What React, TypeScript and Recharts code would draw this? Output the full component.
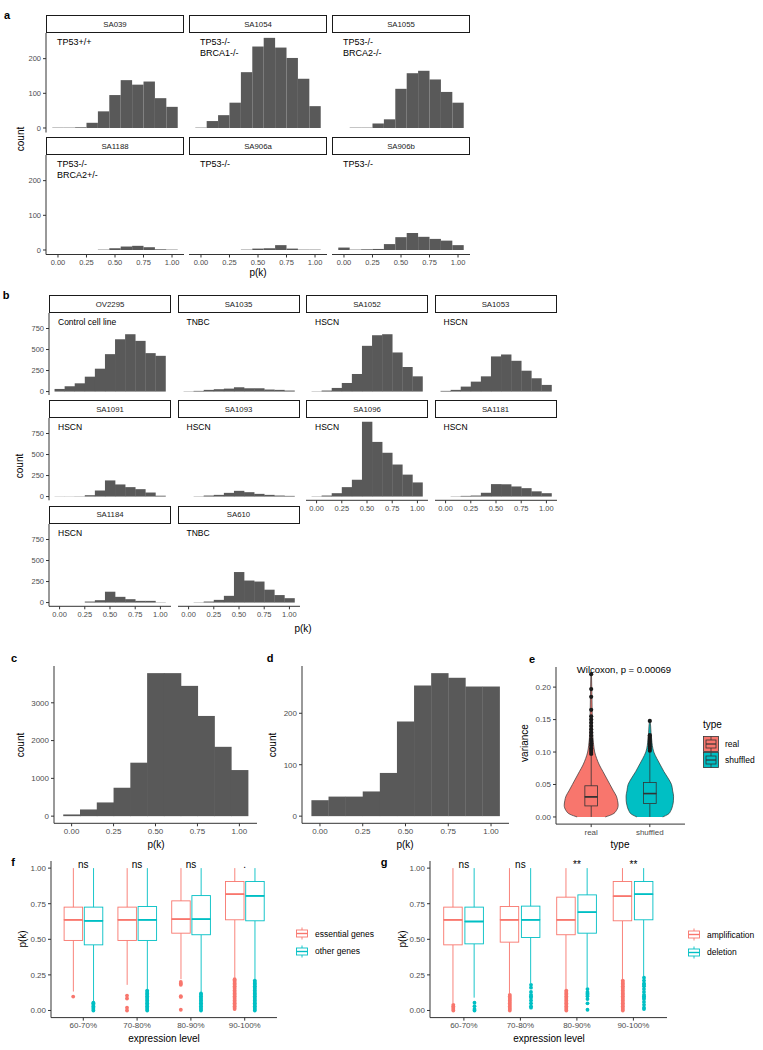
import React from "react";
import {
  BarChart,
  Bar,
  XAxis,
  YAxis,
  ComposedChart,
  Area,
  Scatter,
  ReferenceDot,
} from "recharts";

const FONT = "'Liberation Sans', Arial, Helvetica, sans-serif";
const TICK = "#4d4d4d";
const AXIS = "#333333";
const HIST = "#595959";
const RED = "#F8766D";
const CYAN = "#00BFC4";

// histogram bins (centres) and p(k) ticks
const binMids = [0, 0.1, 0.2, 0.3, 0.4, 0.5, 0.6, 0.7, 0.8, 0.9, 1.0];
const pkTicks = [0, 0.25, 0.5, 0.75, 1];

// panel a counts
const sa039 = [1, 1, 2, 15, 48, 95, 138, 125, 134, 86, 61];
const sa1054 = [1, 20, 37, 73, 161, 235, 260, 232, 202, 142, 63];
const sa1055 = [null, 1, 1, 13, 25, 113, 158, 165, 140, 104, 73];
const sa1188 = [null, null, null, null, 1, 5, 10, 12, 8, 2, 1];
const sa906a = [null, null, null, null, 1, 4, 5, 14, 4, 1, 1];
const sa906b = [7, 1, 2, 3, 17, 37, 49, 38, 32, 27, 14];

// panel b counts
const ov2295 = [31, 63, 98, 177, 272, 445, 622, 682, 603, 457, 425];
const sa1035 = [3, 8, 20, 28, 35, 51, 39, 39, 24, 20, 12];
const sa1052 = [3, 12, 43, 102, 209, 544, 670, 682, 465, 292, 181];
const sa1053 = [8, 20, 59, 118, 181, 418, 441, 366, 248, 158, 79];
const sa1091 = [2, 2, 3, 16, 72, 192, 144, 112, 88, 48, 10];
const sa1093 = [null, 3, 12, 20, 44, 68, 52, 32, 20, 12, 8];
const sa1096 = [3, 12, 40, 112, 200, 890, 650, 521, 381, 261, 168];
const sa1181 = [null, 3, 8, 12, 45, 148, 146, 120, 100, 62, 40];
const sa1184 = [null, null, null, 12, 28, 129, 68, 40, 20, 20, 3];
const sa610 = [null, 3, 12, 32, 80, 363, 262, 250, 153, 89, 52];

// panels c, d
const countsC = [45, 177, 363, 752, 1415, 3785, 3785, 3448, 2652, 1835, 1220];
const countsD = [31, 38, 38, 48, 84, 184, 254, 278, 269, 252, 252];

// panel e
const eTypes = ["real", "shuffled"];
const violinV = [0, 0.004, 0.01, 0.018, 0.025, 0.032, 0.04, 0.05, 0.06, 0.07, 0.08, 0.09, 0.1, 0.11, 0.12, 0.13, 0.14, 0.148, 0.16, 0.18, 0.2, 0.22];
const violinReal = [0.24, 0.36, 0.43, 0.46, 0.45, 0.43, 0.38, 0.32, 0.26, 0.2, 0.14, 0.094, 0.06, 0.043, 0.031, 0.025, 0.02, 0.019, 0.017, 0.014, 0.01, 0.005];
const violinShuf = [0.22, 0.31, 0.36, 0.39, 0.403, 0.405, 0.39, 0.37, 0.31, 0.24, 0.18, 0.12, 0.068, 0.043, 0.031, 0.02, 0.014, 0.005, null, null, null, null];
// [lower whisker, q1, median, q3, upper whisker]
const eBoxReal = [0.0, 0.017, 0.031, 0.048, 0.094];
const eBoxShuf = [0.0, 0.0206, 0.036, 0.053, 0.1];
const eOutReal = [0.097, 0.1, 0.103, 0.106, 0.11, 0.113, 0.117, 0.12, 0.125, 0.13, 0.135, 0.14, 0.145, 0.15, 0.155, 0.165, 0.185, 0.197, 0.22];
const eOutShuf = [0.102, 0.105, 0.108, 0.111, 0.114, 0.117, 0.12, 0.123, 0.126, 0.148];

// panels f, g
const exprLevels = ["60-70%", "70-80%", "80-90%", "90-100%"];
const fEssential = [
  [0.133, 0.492, 0.637, 0.726, 1.0],
  [0.18, 0.492, 0.637, 0.726, 1.0],
  [0.22, 0.543, 0.642, 0.77, 1.0],
  [0.23, 0.637, 0.817, 0.906, 1.0],
];
const fOther = [
  [0.06, 0.461, 0.63, 0.726, 1.0],
  [0.14, 0.492, 0.637, 0.73, 1.0],
  [0.13, 0.532, 0.642, 0.807, 1.0],
  [0.22, 0.63, 0.805, 0.906, 1.0],
];
const fEssentialOut = [
  [0.098],
  [0.105, 0.084, 0.02, 0.0],
  [0.2, 0.19, 0.18, 0.1, 0.095, 0.005],
  [0.22, 0.21, 0.2, 0.19, 0.18, 0.17, 0.16, 0.15, 0.14, 0.13, 0.12, 0.11, 0.1, 0.09, 0.08, 0.07, 0.06, 0.05, 0.04, 0.03, 0.02, 0.01],
];
const fOtherOut = [
  [0.055, 0.05, 0.04, 0.03, 0.02, 0.01, 0.0],
  [0.14, 0.13, 0.12, 0.11, 0.1, 0.09, 0.08, 0.07, 0.06, 0.05, 0.04, 0.03, 0.02, 0.01, 0.0],
  [0.12, 0.11, 0.1, 0.09, 0.08, 0.07, 0.06, 0.05, 0.04, 0.03, 0.02, 0.01, 0.0],
  [0.21, 0.2, 0.19, 0.18, 0.17, 0.16, 0.15, 0.14, 0.13, 0.12, 0.11, 0.1, 0.09, 0.08, 0.07, 0.06, 0.05, 0.04, 0.03, 0.02, 0.01, 0.0],
];
const fSig = ["ns", "ns", "ns", "."];

const gAmp = [
  [0.05, 0.461, 0.637, 0.726, 1.0],
  [0.12, 0.48, 0.637, 0.73, 1.0],
  [0.15, 0.532, 0.637, 0.796, 1.0],
  [0.22, 0.63, 0.803, 0.906, 1.0],
];
const gDel = [
  [0.09, 0.468, 0.625, 0.726, 1.0],
  [0.19, 0.513, 0.637, 0.733, 1.0],
  [0.16, 0.543, 0.691, 0.812, 1.0],
  [0.24, 0.637, 0.817, 0.906, 1.0],
];
const gAmpOut = [
  [0.04, 0.03, 0.02, 0.01, 0.0],
  [0.11, 0.1, 0.09, 0.08, 0.07, 0.06, 0.05, 0.04, 0.03, 0.02, 0.01, 0.0],
  [0.14, 0.13, 0.12, 0.11, 0.1, 0.09, 0.08, 0.07, 0.06, 0.05, 0.04, 0.03, 0.02, 0.01, 0.0],
  [0.21, 0.2, 0.19, 0.18, 0.17, 0.16, 0.15, 0.14, 0.13, 0.12, 0.11, 0.1, 0.09, 0.08, 0.07, 0.06, 0.05, 0.04, 0.03, 0.02, 0.01, 0.0],
];
const gDelOut = [
  [0.055, 0.03, 0.01, 0.0],
  [0.18, 0.16, 0.13, 0.11, 0.1, 0.09, 0.07, 0.05, 0.03, 0.02],
  [0.15, 0.13, 0.12, 0.11, 0.1, 0.08, 0.05, 0.005],
  [0.23, 0.21, 0.19, 0.18, 0.17, 0.15, 0.13, 0.11, 0.1, 0.09, 0.08, 0.06, 0.04, 0.02, 0.01],
];
const gSig = ["ns", "ns", "**", "**"];

const facetsA = [
  { name: "SA039", note: ["TP53+/+"], counts: sa039 },
  { name: "SA1054", note: ["TP53-/-", "BRCA1-/-"], counts: sa1054 },
  { name: "SA1055", note: ["TP53-/-", "BRCA2-/-"], counts: sa1055 },
  { name: "SA1188", note: ["TP53-/-", "BRCA2+/-"], counts: sa1188 },
  { name: "SA906a", note: ["TP53-/-"], counts: sa906a },
  { name: "SA906b", note: ["TP53-/-"], counts: sa906b },
];

const facetsB = [
  { name: "OV2295", note: ["Control cell line"], counts: ov2295 },
  { name: "SA1035", note: ["TNBC"], counts: sa1035 },
  { name: "SA1052", note: ["HSCN"], counts: sa1052 },
  { name: "SA1053", note: ["HSCN"], counts: sa1053 },
  { name: "SA1091", note: ["HSCN"], counts: sa1091 },
  { name: "SA1093", note: ["HSCN"], counts: sa1093 },
  { name: "SA1096", note: ["HSCN"], counts: sa1096 },
  { name: "SA1181", note: ["HSCN"], counts: sa1181 },
  { name: "SA1184", note: ["HSCN"], counts: sa1184 },
  { name: "SA610", note: ["TNBC"], counts: sa610 },
];

function Txt({ x, y, size = 10, rot = false, bold = false, color = "#000", children }: any) {
  return (
    <div
      style={{
        position: "absolute",
        left: x,
        top: y,
        transform: `translate(-50%, -50%)${rot ? " rotate(-90deg)" : ""}`,
        fontSize: size,
        fontWeight: bold ? 700 : 400,
        whiteSpace: "nowrap",
        lineHeight: 1,
        color,
      }}
    >
      {children}
    </div>
  );
}

// bars overlap by a hair so neighbouring bins show no seam
const histShape = (p: any) =>
  p.height == null || isNaN(p.y) ? <g /> : <rect x={p.x} y={p.y} width={p.width + 0.4} height={p.height} fill={HIST} />;

function Hist({ counts, x, top, w, h, yDomain, yTicks, showY, showX, fs, yW }: any) {
  const data = binMids.map((b, i) => ({ x: b, n: counts[i] }));
  const xH = fs + 9;
  const l = showY ? yW : 0;
  const bt = showX ? xH : 0;
  return (
    <div style={{ position: "absolute", left: x - l, top }}>
      <BarChart
        width={w + l}
        height={h + bt}
        data={data}
        margin={{ top: 0, right: 0, bottom: 0, left: 0 }}
        barCategoryGap={0}
        barGap={0}
        style={{ overflow: "visible" }}
      >
        <XAxis
          type="number"
          dataKey="x"
          domain={[-0.105, 1.105]}
          allowDataOverflow
          ticks={pkTicks}
          interval={0}
          tickFormatter={(v: number) => v.toFixed(2)}
          hide={!showX}
          height={xH}
          tickSize={3}
          stroke={AXIS}
          tick={{ fontSize: fs, fill: TICK }}
        />
        <YAxis
          type="number"
          domain={yDomain}
          allowDataOverflow
          ticks={yTicks}
          interval={0}
          hide={!showY}
          width={yW}
          tickSize={3}
          stroke={AXIS}
          tick={{ fontSize: fs, fill: TICK }}
        />
        <Bar dataKey="n" fill={HIST} isAnimationActive={false} shape={histShape} />
      </BarChart>
    </div>
  );
}

function Facet({ f, x, top, w, h, stripH, yDomain, yTicks, showY, showX, noteFs, noteDx }: any) {
  return (
    <>
      <div
        style={{
          position: "absolute",
          left: x,
          top,
          width: w,
          height: stripH,
          border: "1px solid #1a1a1a",
          boxSizing: "border-box",
          background: "#fff",
          fontSize: 7.8,
          color: "#1a1a1a",
          display: "flex",
          alignItems: "center",
          justifyContent: "center",
        }}
      >
        {f.name}
      </div>
      <Hist
        counts={f.counts}
        x={x}
        top={top + stripH}
        w={w}
        h={h}
        yDomain={yDomain}
        yTicks={yTicks}
        showY={showY}
        showX={showX}
        fs={7.5}
        yW={24}
      />
      <div
        style={{
          position: "absolute",
          left: x + noteDx,
          top: top + stripH + 4,
          fontSize: noteFs,
          lineHeight: "11px",
          color: "#000",
          whiteSpace: "nowrap",
        }}
      >
        {f.note.map((t: string) => (
          <div key={t}>{t}</div>
        ))}
      </div>
    </>
  );
}

const boxRow = (x: number, s: number[], line: string, fill: string) => ({
  x,
  base: s[0],
  lo: s[1] - s[0],
  mid: s[2] - s[1],
  hi: s[3] - s[2],
  up: s[4] - s[3],
  line,
  fill,
});

const segShape = (part: string, lw: number) => (props: any) => {
  const { x, y, width, height, payload } = props;
  if (part === "base" || y == null || isNaN(y)) return <g />;
  const cx = x + width / 2;
  if (part === "lo" || part === "up")
    return <line x1={cx} x2={cx} y1={y} y2={y + height} stroke={payload.line} strokeWidth={lw} />;
  if (part === "mid")
    return <rect x={x} y={y} width={width} height={height} fill={payload.fill} stroke={payload.line} strokeWidth={lw} />;
  return (
    <g>
      <rect x={x} y={y} width={width} height={height} fill={payload.fill} stroke={payload.line} strokeWidth={lw} />
      <line x1={x} x2={x + width} y1={y + height} y2={y + height} stroke={payload.line} strokeWidth={lw * 2} />
    </g>
  );
};

function BoxBars({ lw }: any) {
  return [
    <Bar key="base" dataKey="base" stackId="s" isAnimationActive={false} shape={segShape("base", lw)} />,
    <Bar key="lo" dataKey="lo" stackId="s" isAnimationActive={false} shape={segShape("lo", lw)} />,
    <Bar key="mid" dataKey="mid" stackId="s" isAnimationActive={false} shape={segShape("mid", lw)} />,
    <Bar key="hi" dataKey="hi" stackId="s" isAnimationActive={false} shape={segShape("hi", lw)} />,
    <Bar key="up" dataKey="up" stackId="s" isAnimationActive={false} shape={segShape("up", lw)} />,
  ];
}

const dot = (color: string, r: number) => (props: any) =>
  <circle cx={props.cx} cy={props.cy} r={r} fill={color} />;

function BoxPanel({ left, top, w, h, s1, s2, o1, o2, sig }: any) {
  const yW = 30;
  const xH = 17;
  const mt = 14;
  const d = 0.1875;
  const rows: any[] = [];
  s1.forEach((s: number[], i: number) => {
    rows.push(boxRow(i + 1 - d, s, RED, "#fff"));
    rows.push(boxRow(i + 1 + d, s2[i], CYAN, "#fff"));
  });
  const pts1 = o1.flatMap((vals: number[], i: number) => vals.map((v) => ({ x: i + 1 - d, y: v })));
  const pts2 = o2.flatMap((vals: number[], i: number) => vals.map((v) => ({ x: i + 1 + d, y: v })));
  return (
    <div style={{ position: "absolute", left: left - yW, top: top - mt }}>
      <ComposedChart
        width={w + yW}
        height={h + xH + mt}
        data={rows}
        margin={{ top: mt, right: 0, bottom: 0, left: 0 }}
        barSize={18.5}
        style={{ overflow: "visible" }}
      >
        <XAxis
          type="number"
          dataKey="x"
          domain={[0.4, 4.6]}
          allowDataOverflow
          ticks={[1, 2, 3, 4]}
          interval={0}
          tickFormatter={(v: number) => exprLevels[v - 1]}
          height={xH}
          tickSize={3}
          stroke={AXIS}
          tick={{ fontSize: 8, fill: TICK }}
        />
        <YAxis
          type="number"
          domain={[-0.05, 1.05]}
          allowDataOverflow
          ticks={[0, 0.25, 0.5, 0.75, 1]}
          interval={0}
          tickFormatter={(v: number) => v.toFixed(2)}
          width={yW}
          tickSize={3}
          stroke={AXIS}
          tick={{ fontSize: 8, fill: TICK }}
        />
        {BoxBars({ lw: 0.9 })}
        <Scatter data={pts1} dataKey="y" isAnimationActive={false} shape={dot(RED, 1.9)} />
        <Scatter data={pts2} dataKey="y" isAnimationActive={false} shape={dot(CYAN, 1.9)} />
        {sig.map((t: string, i: number) => (
          <ReferenceDot
            key={i}
            x={i + 1}
            y={1.025}
            r={0}
            fill="none"
            stroke="none"
            ifOverflow="visible"
            label={{ value: t, position: "center", fontSize: 10, fill: "#000" }}
          />
        ))}
      </ComposedChart>
    </div>
  );
}

function Violin({ rows, color, left, top, w, h, yW, xH }: any) {
  return (
    <div style={{ position: "absolute", left: left - yW, top }}>
      <ComposedChart
        layout="vertical"
        width={w + yW}
        height={h + xH}
        data={rows}
        margin={{ top: 0, right: 0, bottom: xH, left: yW }}
      >
        <XAxis type="number" domain={[0.4, 2.6]} allowDataOverflow hide />
        <YAxis type="number" dataKey="v" domain={[-0.011, 0.231]} allowDataOverflow reversed hide />
        <Area dataKey="span" type="monotoneY" fill={color} fillOpacity={1} stroke={AXIS} strokeWidth={0.7} isAnimationActive={false} />
      </ComposedChart>
    </div>
  );
}

function EPanel({ left, top, w, h }: any) {
  const yW = 30;
  const xH = 17;
  const realRows = violinV.map((v, i) => ({ v, span: [1 - violinReal[i], 1 + violinReal[i]] }));
  const shufRows = violinV
    .map((v, i) => ({ v, half: violinShuf[i] }))
    .filter((r) => r.half != null)
    .map((r) => ({ v: r.v, span: [2 - (r.half as number), 2 + (r.half as number)] }));
  const rows = [boxRow(1, eBoxReal, AXIS, RED), boxRow(2, eBoxShuf, AXIS, CYAN)];
  const pts = [
    ...eOutReal.map((v) => ({ x: 1, y: v })),
    ...eOutShuf.map((v) => ({ x: 2, y: v })),
  ];
  return (
    <>
      <Violin rows={realRows} color={RED} left={left} top={top} w={w} h={h} yW={yW} xH={xH} />
      <Violin rows={shufRows} color={CYAN} left={left} top={top} w={w} h={h} yW={yW} xH={xH} />
      <div style={{ position: "absolute", left: left - yW, top }}>
        <ComposedChart
          width={w + yW}
          height={h + xH}
          data={rows}
          margin={{ top: 0, right: 0, bottom: 0, left: 0 }}
          barSize={12.7}
          style={{ overflow: "visible" }}
        >
          <XAxis
            type="number"
            dataKey="x"
            domain={[0.4, 2.6]}
            allowDataOverflow
            ticks={[1, 2]}
            interval={0}
            tickFormatter={(v: number) => eTypes[v - 1]}
            height={xH}
            tickSize={3}
            stroke={AXIS}
            tick={{ fontSize: 8, fill: TICK }}
          />
          <YAxis
            type="number"
            domain={[-0.011, 0.231]}
            allowDataOverflow
            ticks={[0, 0.05, 0.1, 0.15, 0.2]}
            interval={0}
            tickFormatter={(v: number) => v.toFixed(2)}
            width={yW}
            tickSize={3}
            stroke={AXIS}
            tick={{ fontSize: 8, fill: TICK }}
          />
          {BoxBars({ lw: 0.8 })}
          <Scatter data={pts} dataKey="y" isAnimationActive={false} shape={dot("#1a1a1a", 2.1)} />
        </ComposedChart>
      </div>
    </>
  );
}

function BoxKey({ color }: any) {
  return (
    <svg width={14} height={13} style={{ display: "block" }}>
      <line x1={7} x2={7} y1={0.5} y2={3} stroke={color} strokeWidth={0.9} />
      <rect x={1.5} y={3} width={11} height={7} fill="#fff" stroke={color} strokeWidth={0.9} />
      <line x1={1.5} x2={12.5} y1={6.5} y2={6.5} stroke={color} strokeWidth={1.4} />
      <line x1={7} x2={7} y1={10} y2={12.5} stroke={color} strokeWidth={0.9} />
    </svg>
  );
}

function FillKey({ color }: any) {
  return (
    <svg width={16} height={16} style={{ display: "block" }}>
      <rect x={0.5} y={0.5} width={15} height={15} fill={color} stroke={AXIS} strokeWidth={0.8} />
      <line x1={8} x2={8} y1={0.5} y2={4} stroke={AXIS} strokeWidth={0.8} />
      <rect x={3} y={4} width={10} height={8} fill={color} stroke={AXIS} strokeWidth={0.8} />
      <line x1={3} x2={13} y1={8} y2={8} stroke={AXIS} strokeWidth={1.2} />
      <line x1={8} x2={8} y1={12} y2={15.5} stroke={AXIS} strokeWidth={0.8} />
    </svg>
  );
}

function Legend2({ x, y, items, gap }: any) {
  return (
    <div style={{ position: "absolute", left: x, top: y }}>
      {items.map((it: any) => (
        <div key={it.label} style={{ display: "flex", alignItems: "center", height: gap }}>
          <BoxKey color={it.color} />
          <span style={{ fontSize: 8.5, color: "#000", marginLeft: 6 }}>{it.label}</span>
        </div>
      ))}
    </div>
  );
}

export default function App() {
  return (
    <div
      style={{
        position: "absolute",
        left: 0,
        top: 0,
        width: 763,
        height: 1050,
        background: "#fff",
        fontFamily: FONT,
        overflow: "hidden",
      }}
    >
      {/* panel a */}
      <Txt x={7} y={15} size={11} bold>a</Txt>
      {facetsA.map((f, i) => {
        const col = i % 3;
        const row = Math.floor(i / 3);
        return (
          <Facet
            key={f.name}
            f={f}
            x={46 + col * 143}
            top={15 + row * 122}
            w={138}
            h={99.5}
            stripH={18}
            yDomain={[-13, 274]}
            yTicks={[0, 100, 200]}
            showY={col === 0}
            showX={row === 1}
            noteFs={9}
            noteDx={11}
          />
        );
      })}
      <Txt x={21} y={139} rot>count</Txt>
      <Txt x={258} y={273}>p(k)</Txt>

      {/* panel b */}
      <Txt x={6} y={295} size={11} bold>b</Txt>
      {facetsB.map((f, i) => {
        const col = i % 4;
        const row = Math.floor(i / 4);
        return (
          <Facet
            key={f.name}
            f={f}
            x={49 + col * 128.5}
            top={295 + row * 105.3}
            w={122}
            h={82.3}
            stripH={18}
            yDomain={[-44.5, 934.5]}
            yTicks={[0, 250, 500, 750]}
            showY={col === 0}
            showX={row === 2 || (row === 1 && col >= 2)}
            noteFs={8.5}
            noteDx={9}
          />
        );
      })}
      <Txt x={20} y={466} rot>count</Txt>
      <Txt x={303} y={629}>p(k)</Txt>

      {/* panel c */}
      <Txt x={14} y={658} size={11} bold>c</Txt>
      <Hist counts={countsC} x={54} top={666} w={203} h={157.3} yDomain={[-189, 3974]} yTicks={[0, 1000, 2000, 3000]} showY showX fs={8} yW={32} />
      <Txt x={21} y={745} rot>count</Txt>
      <Txt x={156} y={845}>p(k)</Txt>

      {/* panel d */}
      <Txt x={270} y={658} size={11} bold>d</Txt>
      <Hist counts={countsD} x={302} top={666} w={207} h={157.3} yDomain={[-13.9, 291.9]} yTicks={[0, 100, 200]} showY showX fs={8} yW={26} />
      <Txt x={273} y={745} rot>count</Txt>
      <Txt x={405} y={845}>p(k)</Txt>

      {/* panel e */}
      <Txt x={532} y={659} size={11} bold>e</Txt>
      <EPanel left={556} top={666.7} w={129} h={157.1} />
      <Txt x={624} y={670} size={9.5}>Wilcoxon, p = 0.00069</Txt>
      <Txt x={525} y={743} rot>variance</Txt>
      <Txt x={620} y={845}>type</Txt>
      <div style={{ position: "absolute", left: 703, top: 720, fontSize: 10, lineHeight: 1 }}>type</div>
      <div style={{ position: "absolute", left: 703, top: 736 }}>
        {[{ c: RED, t: "real" }, { c: CYAN, t: "shuffled" }].map((it) => (
          <div key={it.t} style={{ display: "flex", alignItems: "center", height: 16 }}>
            <FillKey color={it.c} />
            <span style={{ fontSize: 8.5, marginLeft: 6 }}>{it.t}</span>
          </div>
        ))}
      </div>

      {/* panel f */}
      <Txt x={13} y={862} size={11} bold>f</Txt>
      <BoxPanel left={50.7} top={861.2} w={226} h={156.6} s1={fEssential} s2={fOther} o1={fEssentialOut} o2={fOtherOut} sig={fSig} />
      <Txt x={23} y={939} rot>p(k)</Txt>
      <Txt x={164} y={1039}>expression level</Txt>
      <Legend2 x={295} y={925} gap={17.5} items={[{ color: RED, label: "essential genes" }, { color: CYAN, label: "other genes" }]} />

      {/* panel g */}
      <Txt x={384} y={862} size={11} bold>g</Txt>
      <BoxPanel left={430} top={861.2} w={237.3} h={156.6} s1={gAmp} s2={gDel} o1={gAmpOut} o2={gDelOut} sig={gSig} />
      <Txt x={403} y={939} rot>p(k)</Txt>
      <Txt x={549} y={1039}>expression level</Txt>
      <Legend2 x={687} y={926} gap={17.5} items={[{ color: RED, label: "amplification" }, { color: CYAN, label: "deletion" }]} />
    </div>
  );
}
